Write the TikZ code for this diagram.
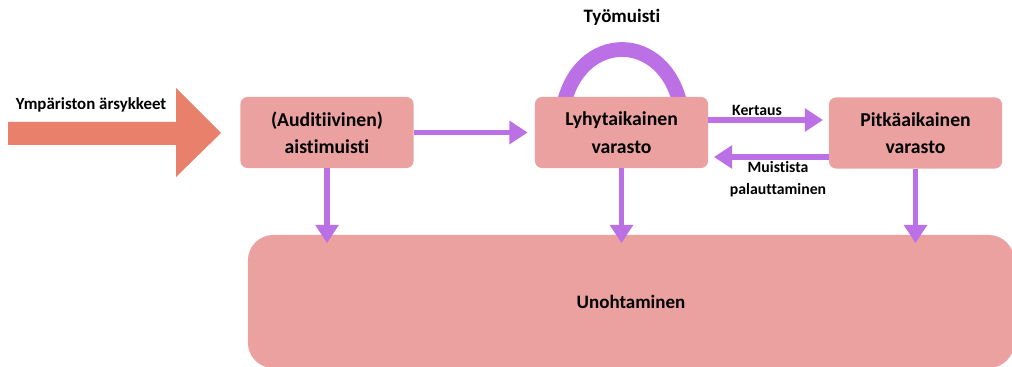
\documentclass[tikz,border=0pt]{standalone}
\usepackage{fontspec}
\setmainfont{Carlito}[Ligatures=NoCommon]
\usetikzlibrary{arrows.meta,backgrounds}

\definecolor{boxpink}{HTML}{EAA19F}
\definecolor{inarrow}{HTML}{E8806B}
\definecolor{flowpurple}{HTML}{BB70E6}

\begin{document}
\begin{tikzpicture}[x=0.025cm,y=-0.025cm,
	every node/.style={black,font=\bfseries},
	storebox/.style={fill=boxpink,rounded corners=5pt,align=center,
		minimum width=4.325cm,minimum height=1.775cm,font=\bfseries\fontsize{14}{19.5}\selectfont},
	flow/.style={draw=flowpurple,line width=4.2pt,
		-{Triangle[length=13pt,width=16pt]}},
	smalltext/.style={font=\bfseries\fontsize{11.2}{16}\selectfont,align=center}]
	\useasboundingbox (0,0) rectangle (1012,367);

	% input arrow
	\fill[inarrow] (8,122)--(176,122)--(176,88)--(221,133)--(176,177)--(176,145)--(8,145)--cycle;
	\node[font=\bfseries\fontsize{12}{14}\selectfont] (ymp) at (91,105) {Ympäriston ärsykkeet};

	\node[storebox] (aisti) at (327,132.5) {(Auditiivinen)\\aistimuisti};
	\node[storebox] (lyhyt) at (621.5,132.5) {Lyhytaikainen\\varasto};
	\node[storebox] (pitka) at (915.5,133) {Pitkäaikainen\\varasto};
	\node[fill=boxpink,rounded corners=18pt,minimum width=19.15cm,minimum height=3.325cm,
		font=\bfseries\fontsize{13.5}{17}\selectfont] (unoh) at (631,301.5) {Unohtaminen};

	% working memory loop
	\begin{scope}[on background layer]
		\draw[flowpurple,line width=10.5pt] (563,108) .. controls (578,30) and (666,30) .. (681,108);
	\end{scope}
	\node[font=\bfseries\fontsize{13.5}{15}\selectfont] (tyo) at (622,17) {Työmuisti};

	\draw[flow,shorten >=5pt] (aisti.east) -- (lyhyt.west);
	\draw[flow,shorten >=4pt] (lyhyt.east |- 0,120) -- (pitka.west |- 0,120);
	\draw[flow,shorten >=4pt] (pitka.west |- 0,157) -- (lyhyt.east |- 0,157);
	\node[smalltext] (kert) at (757,110) {Kertaus};
	\node[smalltext] (palaut) at (778,179) {Muistista\\palauttaminen};

	\draw[flow,shorten >=-6pt] (aisti.south) -- (aisti.south |- unoh.north);
	\draw[flow,shorten >=-6pt] (lyhyt.south) -- (lyhyt.south |- unoh.north);
	\draw[flow,shorten >=-6pt] (pitka.south) -- (pitka.south |- unoh.north);
\end{tikzpicture}
\end{document}
